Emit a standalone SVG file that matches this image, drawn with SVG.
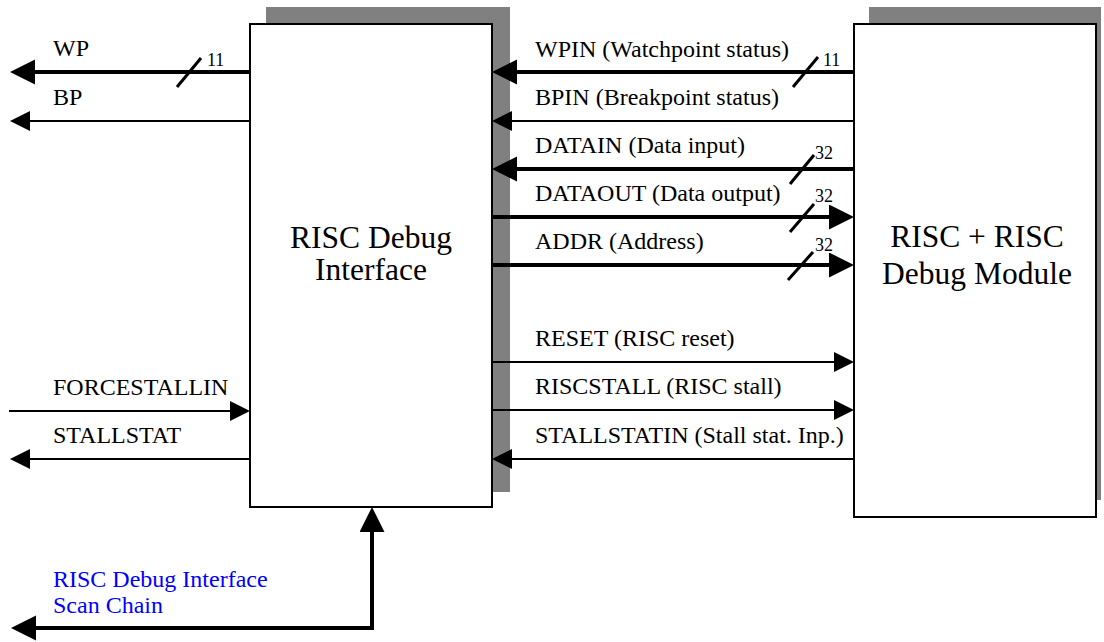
<svg xmlns="http://www.w3.org/2000/svg" width="1104" height="642" viewBox="0 0 1104 642">
<style>
text{font-family:'Liberation Serif','Times New Roman',Times,serif}
.lbl{font-size:24px;fill:#000}
.num{font-size:18px;fill:#000}
.big{font-size:31.5px;fill:#000;text-anchor:middle}
.blue{font-size:24px;fill:#0000ff}
.box{fill:#fff;stroke:#000;stroke-width:2}
.shadow{fill:#808080}
.thick{stroke:#000;stroke-width:4;fill:none}
.thin{stroke:#000;stroke-width:2;fill:none}
.slash{stroke:#000;stroke-width:3}
</style>
<defs>
<marker id="ak" markerUnits="userSpaceOnUse" markerWidth="26" markerHeight="26" refX="15" refY="12.5" orient="auto">
<path d="M0,0 L25,12.5 L0,25 z" fill="#000"/>
</marker>
<marker id="an" markerUnits="userSpaceOnUse" markerWidth="21" markerHeight="21" refX="12" refY="10" orient="auto">
<path d="M0,0 L20,10 L0,20 z" fill="#000"/>
</marker>
</defs>
<rect width="1104" height="642" fill="#fff"/>
<g id="debug-interface">
<rect class="shadow" x="266" y="7" width="244" height="485"/>
<rect class="box" x="250" y="24" width="242" height="483"/>
<text class="big" x="371" y="248">RISC Debug</text>
<text class="big" x="371" y="280">Interface</text>
</g>
<g id="risc-module">
<rect class="shadow" x="869" y="7" width="232" height="493"/>
<rect class="box" x="854" y="24" width="242" height="493"/>
<text class="big" x="977" y="247">RISC + RISC</text>
<text class="big" x="977" y="284">Debug Module</text>
</g>
<g id="connectors">
<line class="thick" x1="250" y1="72" x2="20" y2="72" marker-end="url(#ak)"/>
<line class="thin" x1="250" y1="121" x2="18" y2="121" marker-end="url(#an)"/>
<line class="thin" x1="9" y1="411" x2="242" y2="411" marker-end="url(#an)"/>
<line class="thin" x1="250" y1="459" x2="18" y2="459" marker-end="url(#an)"/>
<line class="thick" x1="854" y1="72" x2="502" y2="72" marker-end="url(#ak)"/>
<line class="thin" x1="854" y1="121" x2="500" y2="121" marker-end="url(#an)"/>
<line class="thick" x1="854" y1="169" x2="502" y2="169" marker-end="url(#ak)"/>
<line class="thick" x1="492" y1="217" x2="844" y2="217" marker-end="url(#ak)"/>
<line class="thick" x1="492" y1="265" x2="844" y2="265" marker-end="url(#ak)"/>
<line class="thin" x1="492" y1="362" x2="846" y2="362" marker-end="url(#an)"/>
<line class="thin" x1="492" y1="410" x2="846" y2="410" marker-end="url(#an)"/>
<line class="thin" x1="854" y1="459" x2="500" y2="459" marker-end="url(#an)"/>
<path class="thick" d="M372,628 L372,517" marker-end="url(#ak)"/>
<path class="thick" d="M374,628 L21,628" marker-end="url(#ak)"/>
<line class="slash" x1="177" y1="87" x2="201" y2="58"/>
<line class="slash" x1="793" y1="87" x2="818" y2="57"/>
<line class="slash" x1="790" y1="184" x2="814" y2="155"/>
<line class="slash" x1="790" y1="232" x2="814" y2="204"/>
<line class="slash" x1="788" y1="280" x2="813" y2="252"/>
</g>
<g id="labels">
<text class="lbl" x="53" y="56">WP</text>
<text class="lbl" x="53" y="105">BP</text>
<text class="lbl" x="53" y="395">FORCESTALLIN</text>
<text class="lbl" x="53" y="443">STALLSTAT</text>
<text class="num" x="207" y="66">11</text>
<text class="lbl" x="535" y="57">WPIN (Watchpoint status)</text>
<text class="lbl" x="535" y="105">BPIN (Breakpoint status)</text>
<text class="lbl" x="535" y="153">DATAIN (Data input)</text>
<text class="lbl" x="535" y="201">DATAOUT (Data output)</text>
<text class="lbl" x="535" y="249">ADDR (Address)</text>
<text class="lbl" x="535" y="346">RESET (RISC reset)</text>
<text class="lbl" x="535" y="394">RISCSTALL (RISC stall)</text>
<text class="lbl" x="535" y="443">STALLSTATIN (Stall stat. Inp.)</text>
<text class="num" x="823" y="66">11</text>
<text class="num" x="815" y="159">32</text>
<text class="num" x="815" y="202">32</text>
<text class="num" x="815" y="251">32</text>
<text class="blue" x="53" y="587">RISC Debug Interface</text>
<text class="blue" x="53" y="613">Scan Chain</text>
</g>
</svg>
